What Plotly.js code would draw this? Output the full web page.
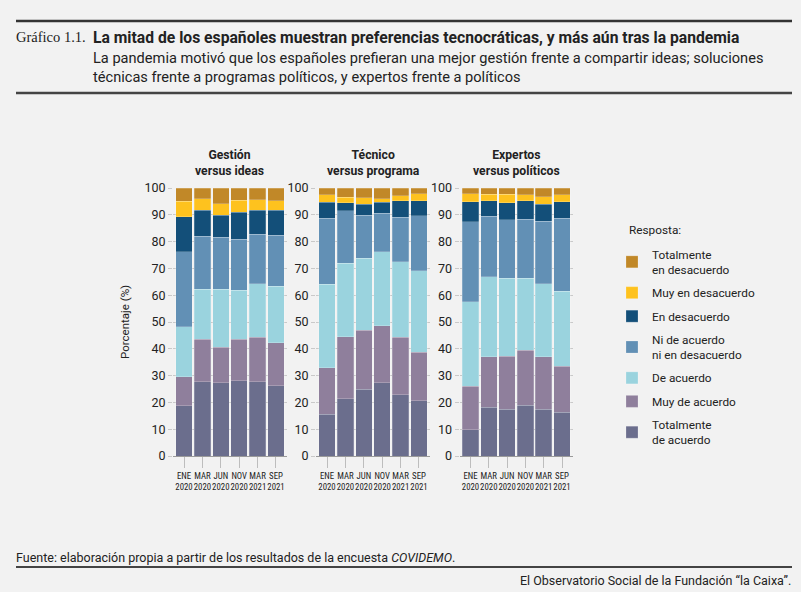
<!DOCTYPE html>
<html>
<head>
<meta charset="utf-8">
<script src="https://cdn.plot.ly/plotly-3.0.1.min.js"></script>
<style>
  html, body { margin: 0; padding: 0; background: #f2f2f2; }
  #chart { width: 801px; height: 592px; }
</style>
</head>
<body>
<div id="chart"></div>
<script>
// periods on the x axis
const periods = ['ENE<br>2020', 'MAR<br>2020', 'JUN<br>2020', 'NOV<br>2020', 'MAR<br>2021', 'SEP<br>2021']

// answers, from the bottom of the stack to the top
const answers = [
  'Totalmente<br>de acuerdo',
  'Muy de acuerdo',
  'De acuerdo',
  'Ni de acuerdo<br>ni en desacuerdo',
  'En desacuerdo',
  'Muy en desacuerdo',
  'Totalmente<br>en desacuerdo',
]
const colors = ['#6b6e8d', '#8f7f9c', '#9ad3de', '#6290b5', '#134f79', '#fec21e', '#c18828']

const panelTitles = ['Gestión<br>versus ideas', 'Técnico<br>versus programa', 'Expertos<br>versus políticos']

// % per answer (rows, same order as answers) and period (columns)
const gestion = [
  [18.8, 27.8, 27.3, 28.1, 27.7, 26.3],
  [10.7, 15.7, 13.2, 15.4, 16.7, 15.9],
  [18.8, 18.7, 21.7, 18.3, 19.8, 21.2],
  [28.0, 19.8, 19.5, 19.0, 18.6, 19.0],
  [13.0,  9.7,  8.1, 10.2,  8.9,  9.3],
  [ 5.7,  4.3,  4.4,  4.5,  3.9,  3.6],
  [ 5.0,  4.0,  5.8,  4.5,  4.4,  4.7],
]
const tecnico = [
  [15.6, 21.4, 24.9, 27.3, 22.8, 20.6],
  [17.4, 23.1, 22.1, 21.3, 21.5, 18.2],
  [31.0, 27.5, 26.8, 27.6, 28.2, 30.4],
  [24.7, 19.6, 16.1, 14.3, 16.5, 20.4],
  [ 6.0,  2.9,  4.1,  4.2,  6.2,  5.7],
  [ 2.7,  2.0,  2.4,  1.3,  2.0,  2.5],
  [ 2.6,  3.5,  3.6,  4.0,  2.8,  2.2],
]
const expertos = [
  [ 9.8, 18.1, 17.4, 19.0, 17.4, 16.3],
  [16.3, 18.9, 19.9, 20.5, 19.7, 17.2],
  [31.5, 29.8, 29.1, 26.8, 27.1, 28.0],
  [29.8, 22.7, 21.8, 22.0, 23.4, 27.2],
  [ 7.4,  5.7,  6.3,  6.9,  6.4,  6.1],
  [ 3.0,  2.4,  3.2,  2.2,  2.8,  2.6],
  [ 2.2,  2.4,  2.3,  2.6,  3.2,  2.6],
]
const panels = [gestion, tecnico, expertos]

const W = 801, H = 592
const px = (x) => x / W
const py = (y) => 1 - y / H
const txt = '#222'
const font = 'Roboto, "Liberation Sans", sans-serif'
const narrow = '"Liberation Sans Narrow", "Arial Narrow", "Roboto Condensed", sans-serif'

// x extent of each panel in pixels
const panelPx = [[173, 287], [316, 430], [459.5, 573]]

let traces = []
panels.forEach((values, p) => {
  let ax = p === 0 ? '' : String(p + 1)
  answers.forEach((name, i) => {
    traces.push({
      type: 'bar',
      name,
      x: periods,
      y: values[i],
      xaxis: 'x' + ax,
      yaxis: 'y' + ax,
      marker: {color: colors[i], line: {width: 0.6, color: 'rgba(255,255,255,0.35)'}},
      legendgroup: name,
      legendrank: 100 - i, // top of the stack first
      showlegend: p === 0,
      hoverinfo: 'y+name',
    })
  })
})

let layout = {
  width: W,
  height: H,
  margin: {l: 0, r: 0, t: 0, b: 0},
  paper_bgcolor: '#f2f2f2',
  plot_bgcolor: '#f2f2f2',
  font: {family: font, color: txt, size: 12},
  barmode: 'stack',
  bargap: 0.1,
  legend: {
    x: px(612), y: py(240), xanchor: 'left', yanchor: 'top',
    traceorder: 'grouped',
    tracegroupgap: 4.5,
    font: {size: 11.8, color: txt},
    bgcolor: 'rgba(0,0,0,0)',
    itemwidth: 30,
  },
  annotations: [],
  shapes: [],
}

panelPx.forEach(([a, b], p) => {
  let ax = p === 0 ? '' : String(p + 1)
  layout['xaxis' + ax] = {
    domain: [px(a), px(b)],
    anchor: 'y' + ax,
    range: [-0.6, 5.6],
    showline: true, linecolor: '#9a9a9a', linewidth: 1,
    ticks: 'outside', ticklen: 11, tickcolor: '#bdbdbd',
    tickangle: 0,
    tickfont: {family: narrow, size: 8.8, color: txt},
    showgrid: false,
    fixedrange: true,
  }
  layout['yaxis' + ax] = {
    domain: [py(456), py(188)],
    anchor: 'x' + ax,
    range: [0, 100],
    dtick: 10,
    showgrid: true, gridcolor: '#c9c9c9', gridwidth: 1,
    zeroline: false,
    ticks: 'outside', ticklen: 4, tickcolor: '#c9c9c9',
    tickfont: {size: 12.5, color: txt},
    fixedrange: true,
  }
  layout.annotations.push({
    xref: 'paper', yref: 'paper',
    x: px((a + b) / 2), y: py(163),
    text: '<b>' + panelTitles[p].replace('<br>', '</b><br><b>') + '</b>',
    showarrow: false, font: {size: 12.2, color: txt},
    xanchor: 'center', yanchor: 'middle',
  })
})

layout.annotations.push(
  {xref: 'paper', yref: 'paper', x: px(627), y: py(230), xanchor: 'left', yanchor: 'middle',
   text: 'Resposta:', showarrow: false, font: {size: 11.8, color: txt}},
  {xref: 'paper', yref: 'paper', x: px(116), y: py(322), text: 'Porcentaje (%)',
   textangle: -90, showarrow: false, font: {size: 11.5, color: txt}},
  {xref: 'paper', yref: 'paper', x: px(14), y: py(37), xanchor: 'left', yanchor: 'middle',
   text: 'Gráfico 1.1.', showarrow: false,
   font: {family: '"Liberation Serif", "DejaVu Serif", serif', size: 14.5, color: txt}},
  {xref: 'paper', yref: 'paper', x: px(91), y: py(37), xanchor: 'left', yanchor: 'middle',
   text: '<b>La mitad de los españoles muestran preferencias tecnocráticas, y más aún tras la pandemia</b>',
   showarrow: false, font: {size: 15.7, color: txt}},
  {xref: 'paper', yref: 'paper', x: px(91), y: py(67.5), xanchor: 'left', yanchor: 'middle', align: 'left',
   text: 'La pandemia motivó que los españoles prefieran una mejor gestión frente a compartir ideas; soluciones<br>técnicas frente a programas políticos, y expertos frente a políticos',
   showarrow: false, font: {size: 14.6, color: txt}},
  {xref: 'paper', yref: 'paper', x: px(14), y: py(557), xanchor: 'left', yanchor: 'middle',
   text: 'Fuente: elaboración propia a partir de los resultados de la encuesta <i>COVIDEMO</i>.',
   showarrow: false, font: {size: 12.5, color: txt}},
  {xref: 'paper', yref: 'paper', x: px(793), y: py(580), xanchor: 'right', yanchor: 'middle',
   text: 'El Observatorio Social de la Fundación “la Caixa”.',
   showarrow: false, font: {size: 12.5, color: txt}},
)

// rules
;[[21, 2.5, '#333'], [93, 2.5, '#444'], [567, 2, '#444']].forEach(([y, w, c]) => {
  layout.shapes.push({
    type: 'line', xref: 'paper', yref: 'paper',
    x0: px(16), x1: px(792), y0: py(y), y1: py(y),
    line: {color: c, width: w},
  })
})

Plotly.newPlot('chart', traces, layout, {displayModeBar: false, staticPlot: true})
</script>
</body>
</html>
